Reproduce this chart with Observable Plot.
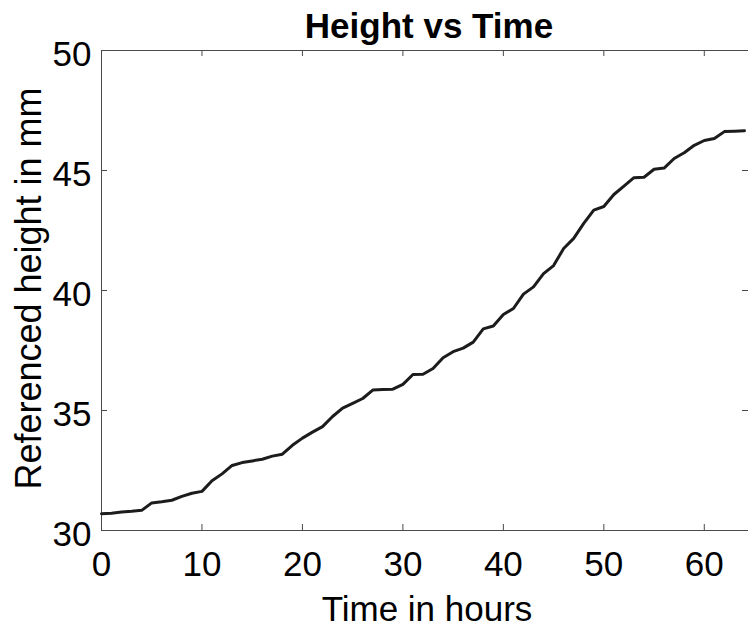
<!DOCTYPE html>
<html>
<head>
<meta charset="utf-8">
<script src="https://cdn.jsdelivr.net/npm/d3@7"></script>
<script src="https://cdn.jsdelivr.net/npm/@observablehq/plot@0.6"></script>
<style>
  html, body { margin: 0; padding: 0; background: #fff; }
</style>
</head>
<body>
<div id="chart"></div>
<script>
const hours = [0,1,2,3,4,5,6,7,8,9,10,11,12,13,14,15,16,17,18,19,20,21,22,23,24,25,26,27,28,29,30,31,32,33,34,35,36,37,38,39,40,41,42,43,44,45,46,47,48,49,50,51,52,53,54,55,56,57,58,59,60,61,62,63,64];
const heights = [30.70,30.72,30.77,30.80,30.84,31.15,31.20,31.26,31.42,31.55,31.63,32.07,32.36,32.71,32.83,32.90,32.97,33.10,33.18,33.55,33.85,34.10,34.33,34.75,35.10,35.30,35.50,35.85,35.87,35.89,36.09,36.50,36.51,36.75,37.20,37.45,37.60,37.85,38.40,38.52,39.00,39.25,39.85,40.15,40.70,41.04,41.75,42.17,42.80,43.35,43.50,44.00,44.35,44.70,44.72,45.05,45.10,45.50,45.74,46.05,46.25,46.33,46.62,46.64,46.66];
const xTicks = [0,10,20,30,40,50,60];
const yTicks = [30,35,40,45,50];
const xDomain = [0, 64.4];
const yDomain = [30, 50];
const titleText = ["Height vs Time"];
const xLabel = ["Time in hours"];
const yLabel = ["Referenced height in mm"];

const data = hours.map((h, i) => ({hour: h, height: heights[i]}));
const frameColor = "#4a4a4a";
const font = "'Liberation Sans', Arial, sans-serif";

const chart = Plot.plot({
  width: 748,
  height: 630,
  marginLeft: 101,
  marginRight: 0,
  marginTop: 50,
  marginBottom: 100,
  style: {fontFamily: font, fontSize: "35px", color: "#000", background: "#fff"},
  x: {domain: xDomain, label: null},
  y: {domain: yDomain, label: null},
  marks: [
    // frame (left, top, bottom)
    Plot.ruleY(yDomain, {stroke: frameColor, strokeWidth: 1}),
    Plot.ruleX([xDomain[0]], {stroke: frameColor, strokeWidth: 1}),
    // inward ticks
    Plot.ruleX(xTicks, {y1: yDomain[0], y2: yDomain[0], insetTop: -6, stroke: frameColor}),
    Plot.ruleX(xTicks, {y1: yDomain[1], y2: yDomain[1], insetBottom: -6, stroke: frameColor}),
    Plot.ruleY(yTicks, {x1: xDomain[0], x2: xDomain[0], insetRight: -6, stroke: frameColor}),
    Plot.ruleY(yTicks, {x1: xDomain[1], x2: xDomain[1], insetLeft: -6, stroke: frameColor}),
    // tick labels
    Plot.axisX(xTicks, {tickSize: 0, tickPadding: 21, fontSize: 35, label: null, fill: "#000"}),
    Plot.axisY(yTicks, {tickSize: 0, tickPadding: 10, dy: 4, fontSize: 35, label: null, fill: "#000"}),
    // data line
    Plot.line(data, {x: "hour", y: "height", stroke: "#1c1c1c", strokeWidth: 3, strokeLinejoin: "round"}),
    // title and axis labels
    Plot.text(titleText, {frameAnchor: "top", lineAnchor: "bottom", dy: -13, dx: 4, fontSize: 35, fontWeight: "bold", fill: "#000"}),
    Plot.text(xLabel, {frameAnchor: "bottom", lineAnchor: "bottom", dy: 90, dx: 2, fontSize: 35, fill: "#000"}),
    Plot.text(yLabel, {frameAnchor: "left", textAnchor: "middle", lineAnchor: "bottom", rotate: -90, dx: -61, dy: -2, fontSize: 36, fill: "#000"})
  ]
});
document.getElementById("chart").appendChild(chart);
</script>
</body>
</html>
